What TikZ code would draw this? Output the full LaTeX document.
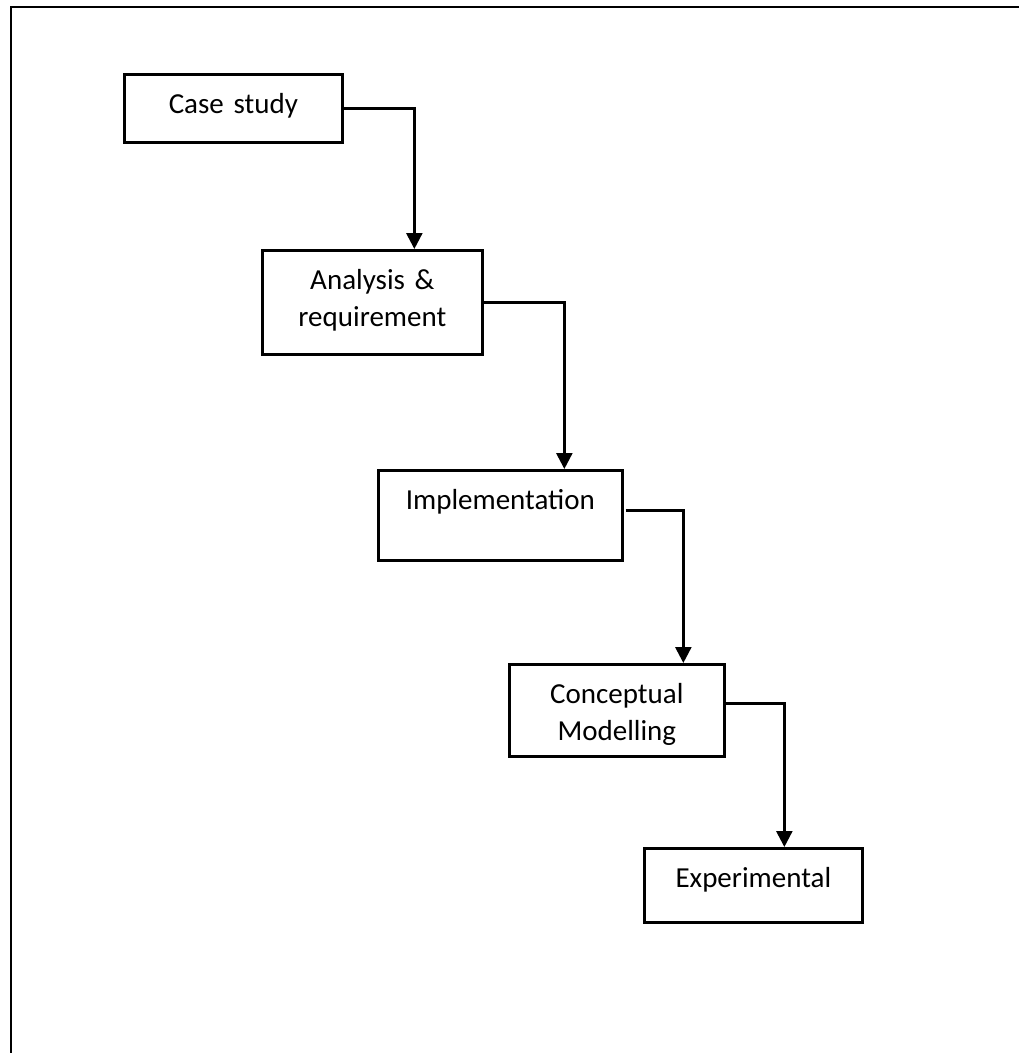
\documentclass[tikz,border=0pt]{standalone}
\usepackage{fontspec}
\setmainfont{Carlito}
\usetikzlibrary{arrows.meta}
\tikzset{
	stage/.style= {
		rectangle,
		draw,
		line width=2.7pt,
		anchor=north west,
		inner sep=0,
		align=center,
		font=\fontsize{29}{37}\selectfont,
		text height=39pt,
	},
	flow/.style= {
		line width=2.5pt,
		-{Triangle[width=16pt,length=16pt]}
	},
}

\begin{document}
\begin{tikzpicture}[x=1pt, y=-1pt]
	
	\useasboundingbox (0,0) rectangle (1019,1053);
	\draw[line width=2.6pt] (1030,7) -| (11,1065);
	
	\node (case)[stage, text width=218pt, text depth=29pt] at (123,73) {Case study};
	\node (analysis)[stage, text width=220pt, text depth=65pt] at (261,249) {Analysis \&\\requirement};
	\node (impl)[stage, text width=244pt, text depth=51pt] at (377,469) {Implementation};
	\node (concept)[stage, text width=215pt, text depth=53pt] at (508,663) {Conceptual\\Modelling};
	\node (exper)[stage, text width=218pt, text depth=35pt] at (643,847) {Experimental};
	
	\draw[flow] (case.east) -| ([xshift=42pt]analysis.north);
	\draw[flow] (analysis.east) -| ([xshift=64pt]impl.north);
	\draw[flow] ([yshift=5pt, xshift=2pt]impl.east) -| ([xshift=66.5pt]concept.north);
	\draw[flow] ([yshift=7pt]concept.east) -| ([xshift=31pt]exper.north);
	
\end{tikzpicture}
\end{document}
